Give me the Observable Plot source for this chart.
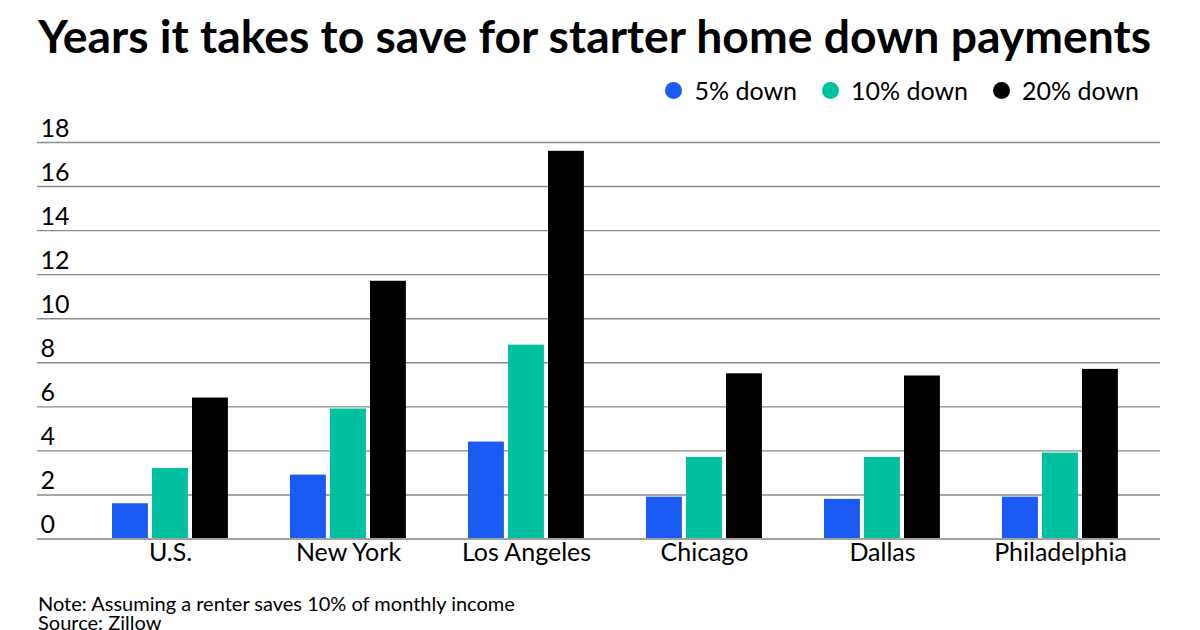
<!DOCTYPE html>
<html><head><meta charset="utf-8">
<script src="https://cdn.jsdelivr.net/npm/d3@7"></script>
<script src="https://cdn.jsdelivr.net/npm/@observablehq/plot@0.6"></script>
<style>
html,body{margin:0;padding:0;background:#fff;}
body{width:1200px;height:630px;overflow:hidden;position:relative;font-family:Lato,"Noto Sans",sans-serif;color:#000;}
#title{position:absolute;left:38px;top:7px;font-size:46.3px;font-weight:700;white-space:nowrap;letter-spacing:0;}
#legend{position:absolute;right:61px;top:75px;display:flex;align-items:center;font-size:25px;white-space:nowrap;}
#legend .item{display:flex;align-items:center;margin-left:25px;}
#legend .dot{width:17px;height:17px;border-radius:50%;margin-right:12px;}
#chart{position:absolute;left:0;top:100px;}
.foot{position:absolute;left:38px;font-size:20px;line-height:19px;white-space:nowrap;}
#note{top:594px;}
#source{top:613px;}
</style></head><body>
<div id="title">Years it takes to save for starter home down payments</div>
<div id="legend"></div>
<div id="chart"></div>
<div id="note" class="foot">Note: Assuming a renter saves 10% of monthly income</div>
<div id="source" class="foot">Source: Zillow</div>
<script>
const cities = ["U.S.", "New York", "Los Angeles", "Chicago", "Dallas", "Philadelphia"];
const seriesNames = ["5% down", "10% down", "20% down"];
const down5 = [1.6, 2.9, 4.4, 1.9, 1.8, 1.9];
const down10 = [3.2, 5.9, 8.8, 3.7, 3.7, 3.9];
const down20 = [6.4, 11.7, 17.6, 7.5, 7.4, 7.7];
const colors = ["#1a5af5", "#00c19f", "#000000"];
const yTicks = [0, 2, 4, 6, 8, 10, 12, 14, 16, 18];

const seriesValues = [down5, down10, down20];

// legend
const legend = document.getElementById("legend");
seriesNames.forEach((s, i) => {
  const it = document.createElement("div");
  it.className = "item";
  it.innerHTML = `<span class="dot" style="background:${colors[i]}"></span><span>${s}</span>`;
  legend.appendChild(it);
});

const barW = 36, gap = 4;
const marks = [
  Plot.ruleY(yTicks, {stroke: "#8a8a8a", strokeWidth: 1.4})
];
seriesNames.forEach((s, i) => {
  const rows = cities.map((c, j) => ({city: c, series: s, value: seriesValues[i][j]}));
  marks.push(Plot.barY(rows, {
    x: "city", y: "value", fill: "series",
    insetLeft: i * (barW + gap),
    insetRight: 116.1 - (i * (barW + gap) + barW)
  }));
});
marks.push(Plot.ruleY([0], {stroke: "#a0a0a0", strokeWidth: 2}));
marks.push(Plot.axisY(yTicks, {anchor: "left", tickSize: 0, tickPadding: 0, textAnchor: "start", dx: 3, dy: -14, label: null, fill: "#000"}));
marks.push(Plot.axisX({tickSize: 0, tickPadding: 4, label: null, fill: "#000"}));

const plot = Plot.plot({
  width: 1200,
  height: 480,
  marginTop: 42,
  marginBottom: 41.5,
  marginLeft: 37,
  marginRight: 40,
  style: {fontFamily: "Lato, 'Noto Sans', sans-serif", fontSize: "25px", color: "#000", background: "#fff"},
  x: {domain: cities, range: [79, 1151], paddingInner: 0.35, paddingOuter: 0.175},
  y: {domain: [0, 18]},
  color: {domain: seriesNames, range: colors},
  marks
});
document.getElementById("chart").appendChild(plot);
</script>
</body></html>
